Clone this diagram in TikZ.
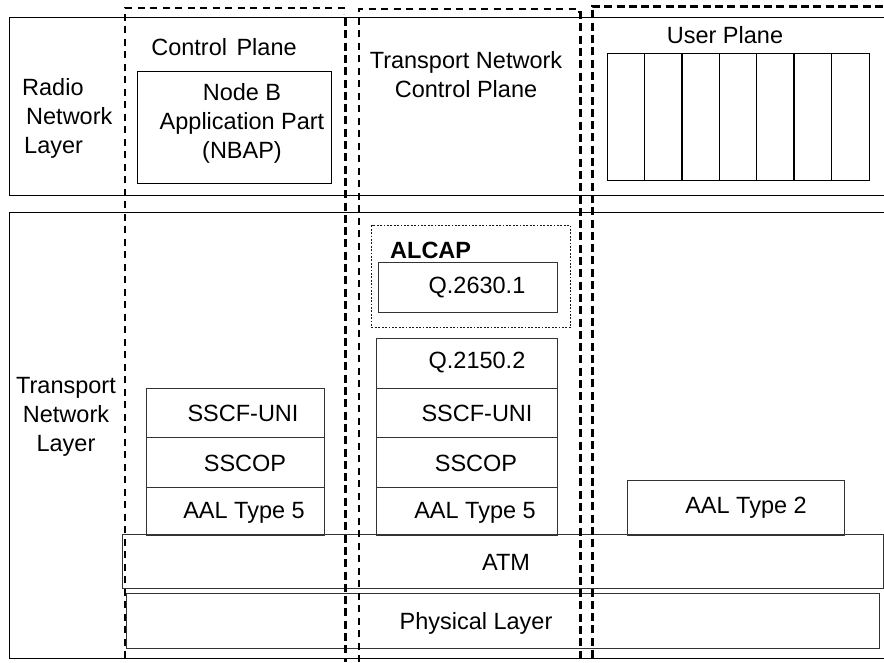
\documentclass[tikz,border=0pt]{standalone}
\usepackage{fontspec}
\setmainfont{Liberation Sans}
\usetikzlibrary{calc}
\begin{document}
\begin{tikzpicture}[x=1pt,y=-1pt,
  lbl/.style={font=\fontsize{23.5}{29}\selectfont, inner sep=0pt, align=center},
  box/.style={draw, line width=1.4pt, inner sep=0pt, anchor=north west},
  cell/.style={draw=black!80, line width=1.2pt, inner sep=0pt, anchor=north west},
  thindash/.style={line width=1.8pt, dash pattern=on 7pt off 5.5pt},
  thickdash/.style={line width=3pt, dash pattern=on 8pt off 4.3pt},
  alcapline/.style={draw=black!90, line width=1.3pt, dash pattern=on 1.8pt off 1.6pt}]
\useasboundingbox (0,0) rectangle (884,662);
\clip (0,0) rectangle (884,662);
\fill[white] (0,0) rectangle (884,662);

% layer boxes
\node[box, minimum width=890pt, minimum height=178pt] (rnl) at (9,17) {};
\node[box, minimum width=890pt, minimum height=446pt] (tnl) at (9,212) {};

% radio network layer content
\node[lbl, align=left, anchor=west] (rnltext) at (22,118) {Radio\\\hspace{4pt}Network\\\hspace{2pt}Layer};
\node[lbl] (cptext) at (224,47) {Control\hspace{3pt} Plane};
\node[box, minimum width=194pt, minimum height=112pt] (nbap) at (137,71) {};
\node[lbl] (nbaptext) at (242,123) {Node B\\Application Part\\(NBAP)};
\node[lbl] (tncptext) at (466,75) {Transport Network\\Control Plane};
\node[lbl] (uptext) at (725,35) {User Plane};
\node[box, minimum width=262pt, minimum height=127pt] (up) at (607,53) {};
\foreach \i in {1,...,6}{
  \draw[line width=1.4pt] ($(up.north west)+(\i*37.43,0)$) coordinate (upt\i) -- ($(up.south west)+(\i*37.43,0)$) coordinate (upb\i);
}

% transport network layer content
\node[lbl] (tnltext) at (66,417) {Transport\\Network\\Layer};

% ALCAP
\node[alcapline, inner sep=0pt, anchor=north west, minimum width=199pt, minimum height=102pt] (alcap) at (371,225) {};
\node[lbl, anchor=west, font=\fontsize{23.5}{29}\selectfont\bfseries] (alcaptext) at (390,250) {ALCAP};
\node[cell, minimum width=179pt, minimum height=50pt] (q2630) at (378,262) {};
\node[lbl] (q2630t) at (477,288) {Q.2630.1};

% TNCP stack
\node[cell, minimum width=181pt, minimum height=50pt] (q2150) at (376,338) {};
\node[lbl] (q2150t) at (477,363) {Q.2150.2};
\node[cell, minimum width=181pt, minimum height=49pt] (sscf2) at (376,388) {};
\node[lbl] (sscf2t) at (477,413) {SSCF-UNI};
\node[cell, minimum width=181pt, minimum height=50pt] (sscop2) at (376,437) {};
\node[lbl] (sscop2t) at (476,463) {SSCOP};
\node[cell, minimum width=181pt, minimum height=48pt] (aal52) at (376,487) {};
\node[lbl] (aal52t) at (475,513) {AAL Type 5};

% CP stack
\node[cell, minimum width=178pt, minimum height=49pt] (sscf1) at (146,388) {};
\node[lbl] (sscf1t) at (243,413) {SSCF-UNI};
\node[cell, minimum width=178pt, minimum height=50pt] (sscop1) at (146,437) {};
\node[lbl] (sscop1t) at (245,463) {SSCOP};
\node[cell, minimum width=178pt, minimum height=48pt] (aal51) at (146,487) {};
\node[lbl] (aal51t) at (244,513) {AAL Type 5};

% AAL2
\node[cell, minimum width=217pt, minimum height=55pt] (aal2) at (627,480) {};
\node[lbl] (aal2t) at (746,508) {AAL Type 2};

% ATM and physical
\node[cell, minimum width=761pt, minimum height=54pt] (atm) at (122,534) {};
\node[lbl] (atmt) at (506,562) {ATM};
\node[cell, minimum width=753pt, minimum height=55pt] (phy) at (126,593) {};
\node[lbl] (phyt) at (476,623) {Physical Layer};

% plane boundaries
\coordinate (cpA) at (125,658);
\coordinate (cpB) at (125,8);
\coordinate (cpC) at (344,8);
\coordinate (cpD) at (344,14);
\draw[thindash] (cpA) -- (cpB) -- (cpC) -- (cpD);
\coordinate (cpR1) at (345,18);
\coordinate (cpR2) at (345,662);
\draw[thickdash] (cpR1) -- (cpR2);
\coordinate (tnA) at (359,662);
\coordinate (tnB) at (359,9);
\coordinate (tnC) at (579,9);
\coordinate (tnD) at (579,13);
\draw[thindash] (tnA) -- (tnB) -- (tnC) -- (tnD);
\coordinate (tnR1) at (580,11);
\coordinate (tnR2) at (580,662);
\draw[thickdash] (tnR1) -- (tnR2);
\coordinate (upA) at (592,658);
\coordinate (upB) at (592,6);
\coordinate (upC) at (890,6);
\draw[thickdash] (upA) -- (upB) -- (upC);
\end{tikzpicture}
\end{document}
